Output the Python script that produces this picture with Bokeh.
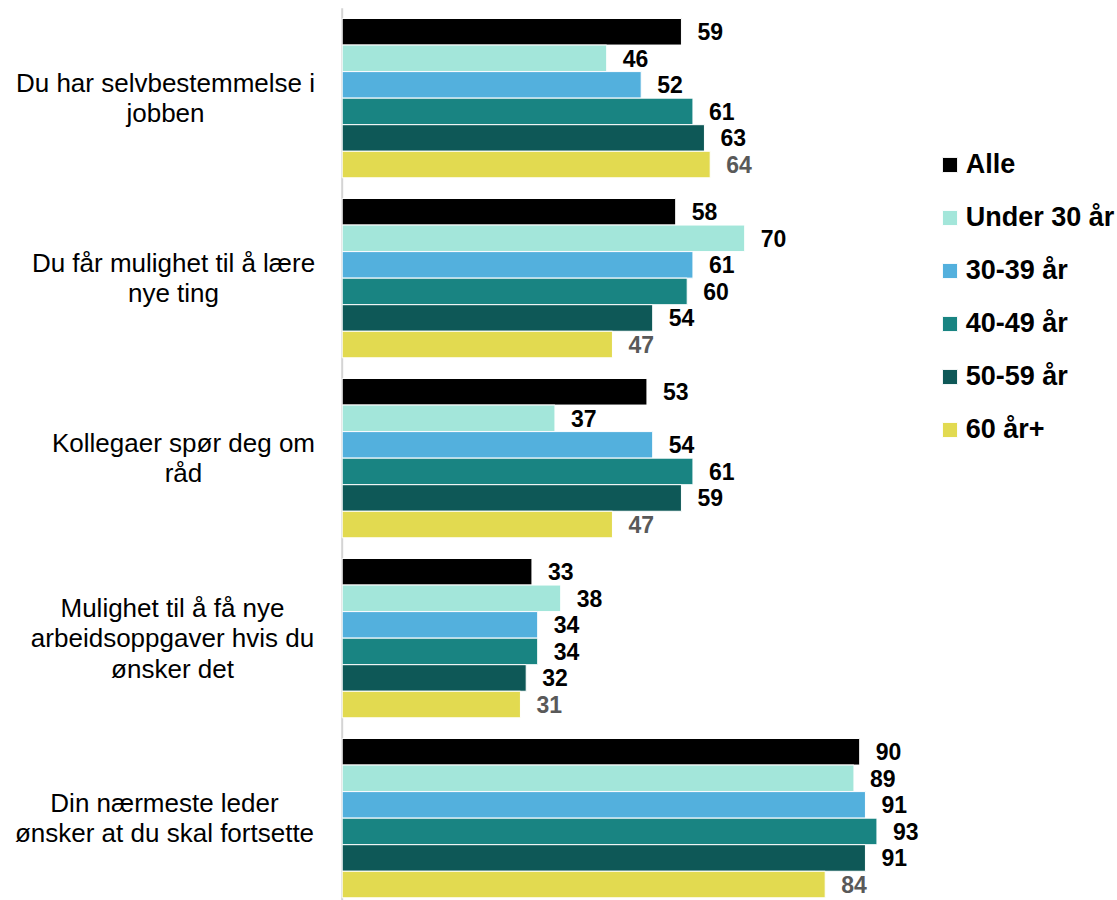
from bokeh.plotting import figure
from bokeh.models import Range1d, ColumnDataSource, Legend, LegendItem
from bokeh.core.properties import value
from bokeh.embed import file_html
from bokeh.resources import INLINE

# ---------------- data ----------------
categories = [
    "Du har selvbestemmelse i\njobben",
    "Du får mulighet til å lære\nnye ting",
    "Kollegaer spør deg om\nråd",
    "Mulighet til å få nye\narbeidsoppgaver hvis du\nønsker det",
    "Din nærmeste leder\nønsker at du skal fortsette",
]
series_names = ["Alle", "Under 30 år", "30-39 år", "40-49 år", "50-59 år", "60 år+"]
alle = [59, 58, 53, 33, 90]
under_30 = [46, 70, 37, 38, 89]
age_30_39 = [52, 61, 54, 34, 91]
age_40_49 = [61, 60, 61, 34, 93]
age_50_59 = [63, 54, 59, 32, 91]
age_60_plus = [64, 47, 47, 31, 84]
series_values = [alle, under_30, age_30_39, age_40_49, age_50_59, age_60_plus]

# ---------------- style ----------------
colors = ["#000000", "#a3e6da", "#53b0dd", "#198482", "#0e5857", "#e2da50"]
label_colors = ["#000000"] * 5 + ["#595959"]
FONT = "Liberation Sans"
W, H = 1117, 900
zero_px = 341.7          # screen x of value 0
px_per_unit = 5.75       # screen px per value unit
first_center_px = 97.65  # screen y of first category centre
period_px = 180.0        # screen px per category
bar_h = 26.55 / period_px
label_center_px = [165, 173, 183, 172, 164]  # horizontal centres of category label blocks

x_range = Range1d(-zero_px / px_per_unit, (W - zero_px) / px_per_unit)
y_range = Range1d((H - first_center_px) / period_px, -first_center_px / period_px)

p = figure(width=W, height=H, x_range=x_range, y_range=y_range,
           x_axis_type=None, y_axis_type=None,
           output_backend="svg", toolbar_location=None,
           min_border=0, min_border_left=0, min_border_right=0,
           min_border_top=0, min_border_bottom=0)
p.grid.visible = False
p.outline_line_color = None
p.background_fill_color = "white"
p.border_fill_color = "white"

n = len(categories)
# value axis line at 0
p.segment(x0=[0], x1=[0], y0=[-0.5], y1=[n], line_color="#d4d4d4", line_width=2)

renderers = []
for j, (name, vals) in enumerate(zip(series_names, series_values)):
    ys = [i + (j - 2.5) * bar_h for i in range(n)]
    src = ColumnDataSource(dict(y=ys, v=vals, t=[str(v) for v in vals]))
    r = p.hbar(y="y", left=0, right="v", height=bar_h, source=src,
               fill_color=colors[j], line_color="white", line_width=1)
    renderers.append(r)
    p.text(x="v", y="y", text="t", source=src, x_offset=16,
           text_align="left", text_baseline="middle",
           text_font=value(FONT), text_font_style="bold",
           text_font_size="23px", text_color=label_colors[j])

cat_src = ColumnDataSource(dict(
    x=[0] * n, y=list(range(n)), t=categories,
    xo=[c - zero_px for c in label_center_px]))
p.text(x="x", y="y", text="t", x_offset="xo", source=cat_src,
       text_align="center", text_baseline="middle",
       text_font=value(FONT), text_font_size="26px",
       text_line_height=1.02, text_color="#000000")

legend = Legend(
    items=[LegendItem(label=s, renderers=[r]) for s, r in zip(series_names, renderers)],
    location=(939.8, 455.0), orientation="vertical",
    glyph_width=19, glyph_height=19, label_standoff=7,
    label_height=31, spacing=22, padding=0, margin=0,
    border_line_alpha=0, background_fill_alpha=0,
    label_text_font=FONT, label_text_font_style="bold",
    label_text_font_size="27px", label_text_color="#000000")
p.add_layout(legend)

open("out.html", "w").write(file_html(p, INLINE))
